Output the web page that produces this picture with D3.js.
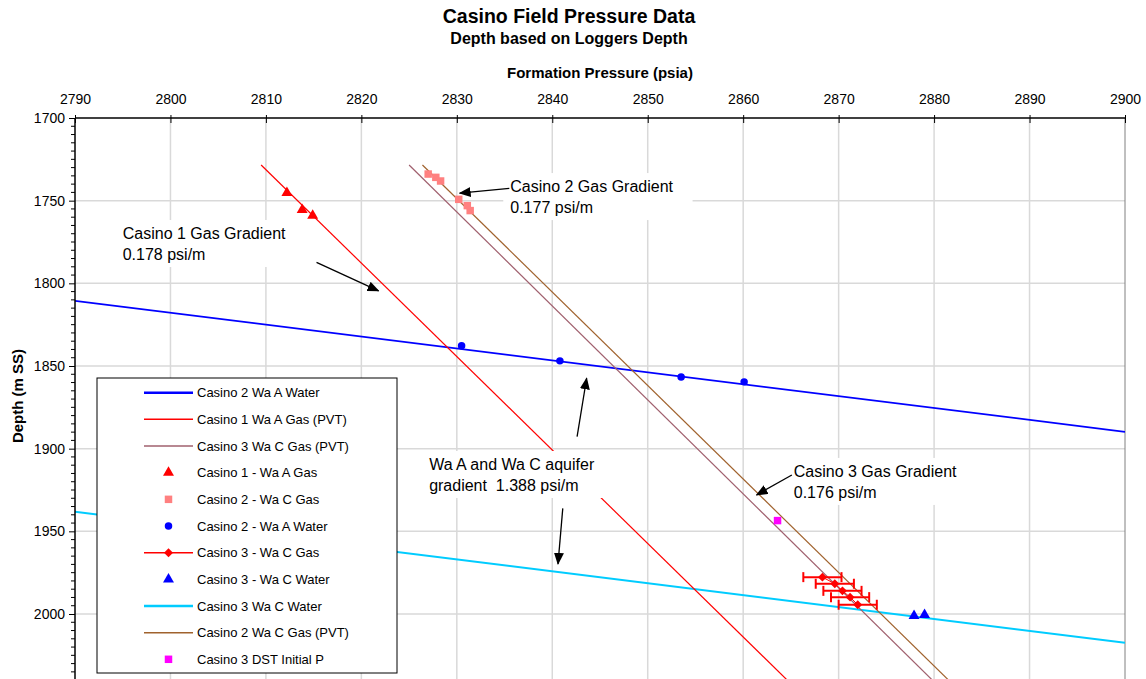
<!DOCTYPE html>
<html><head><meta charset="utf-8">
<script src="https://cdn.jsdelivr.net/npm/d3@7"></script>
<style>
body{margin:0;background:#fff;}
text{font-family:Arial,"Liberation Sans",sans-serif;fill:#000;}
</style>
</head><body>
<svg id="c" width="1146" height="679"></svg>
<script>
// ---------- data ----------
const xTicks = [2790,2800,2810,2820,2830,2840,2850,2860,2870,2880,2890,2900];
const yTicks = [1700,1750,1800,1850,1900,1950,2000];

// fitted gradient lines [pressure psia, depth m SS]
const casino2WaterLine = [[2790,1810.6],[2900,1889.8]];
const casino3WaterLine = [[2790,1938.2],[2900,2017.4]];
const casino1GasLine   = [[2809.5,1728.4],[2865.5,2045]];
const casino3GasLine   = [[2825.0,1728.4],[2880.7,2045]];
const casino2GasLine   = [[2826.4,1728.4],[2882.4,2045]];

// measured points
const casino1Gas   = [[2812.2,1745.2],[2813.8,1755.5],[2814.9,1759.0]];
const casino2Gas   = [[2827.0,1733.9],[2827.8,1735.9],[2828.3,1738.1],[2830.2,1749.2],[2831.1,1753.0],[2831.4,1756.0]];
const casino2Water = [[2830.5,1837.8],[2840.8,1846.9],[2853.5,1856.6],[2860.1,1859.6]];
const casino3Gas   = [[2868.3,1977.7],[2869.6,1981.7],[2870.4,1986.0],[2871.2,1989.8],[2872.0,1994.4]];
const casino3GasErr = [2,2,2,2,2];
const casino3Water = [[2877.9,2001.1],[2879.0,2000.5]];
const casino3DST   = [[2863.6,1943.5]];

// annotations (data coords)
const annotations = [
  {lines:["Casino 1 Gas Gradient","0.178 psi/m"], at:[2795.0,1773.2], arrows:[[[2815.3,1787.3],[2821.8,1804.6]]]},
  {lines:["Casino 2 Gas Gradient","0.177 psi/m"], at:[2835.6,1744.8], arrows:[[[2835.5,1742.6],[2830.3,1745.4]]]},
  {lines:["Wa A and Wa C aquifer","gradient  1.388 psi/m"], at:[2827.1,1912.9],
     arrows:[[[2842.6,1892.7],[2843.6,1857.4]],[[2841.1,1936.1],[2840.6,1969.7]]]},
  {lines:["Casino 3 Gas Gradient","0.176 psi/m"], at:[2865.3,1917.1], arrows:[[[2865.1,1915.9],[2861.4,1928.0]]]}
];

const legendItems = [
  {label:"Casino 2 Wa A Water", line:"#0000ff", lw:2.5},
  {label:"Casino 1 Wa A Gas (PVT)", line:"#ff0000", lw:1.5},
  {label:"Casino 3 Wa C Gas (PVT)", line:"#a0606e", lw:1.5},
  {label:"Casino 1 - Wa A Gas", sym:"triangle", color:"#ff0000"},
  {label:"Casino 2 - Wa C Gas", sym:"square", color:"#ff8080"},
  {label:"Casino 2 - Wa A Water", sym:"circle", color:"#0000ff"},
  {label:"Casino 3 - Wa C Gas", line:"#ff0000", lw:1.5, sym:"diamond", color:"#ff0000"},
  {label:"Casino 3 - Wa C Water", sym:"triangle", color:"#0000ff"},
  {label:"Casino 3 Wa C Water", line:"#00ccff", lw:2.5},
  {label:"Casino 2 Wa C Gas (PVT)", line:"#a0622d", lw:1.5},
  {label:"Casino 3 DST Initial P", sym:"square", color:"#ff00ff"}
];

// ---------- chart ----------
const W = 1146, H = 679;
const PL = 75, PR = 1125, PT = 118;
const svg = d3.select('#c');
const x = d3.scaleLinear().domain([2790,2900]).range([PL,PR]);
const y = d3.scaleLinear().domain([1700,2000]).range([PT,614]);

const defs = svg.append('defs');
defs.append('clipPath').attr('id','clip').append('rect')
  .attr('x',PL).attr('y',PT).attr('width',PR-PL).attr('height',H-PT+10);
defs.append('marker').attr('id','arr').attr('markerUnits','userSpaceOnUse')
  .attr('markerWidth',12).attr('markerHeight',10).attr('refX',11).attr('refY',5)
  .attr('orient','auto').append('path').attr('d','M0,0L12,5L0,10Z').attr('fill','#000');

// grid
const grid = svg.append('g');
grid.selectAll('.vg').data(xTicks.slice(1,-1)).join('line')
  .attr('x1',d=>x(d)).attr('x2',d=>x(d)).attr('y1',PT).attr('y2',H)
  .attr('stroke','#d9d9d9').attr('stroke-width',1.5);
grid.selectAll('.hg').data(yTicks.slice(1)).join('line')
  .attr('x1',PL).attr('x2',PR).attr('y1',d=>y(d)).attr('y2',d=>y(d))
  .attr('stroke','#d9d9d9').attr('stroke-width',1.5);
svg.append('line').attr('x1',PR).attr('x2',PR).attr('y1',PT).attr('y2',H)
  .attr('stroke','#808080').attr('stroke-width',1);

const plot = svg.append('g').attr('clip-path','url(#clip)');
const line = d3.line().x(d=>x(d[0])).y(d=>y(d[1]));

plot.append('path').datum(casino2WaterLine).attr('d',line).attr('fill','none').attr('stroke','#0000ff').attr('stroke-width',1.8);
plot.append('path').datum(casino3WaterLine).attr('d',line).attr('fill','none').attr('stroke','#00ccff').attr('stroke-width',2);
plot.append('path').datum(casino1GasLine).attr('d',line).attr('fill','none').attr('stroke','#ff0000').attr('stroke-width',1.2);
plot.append('path').datum(casino3GasLine).attr('d',line).attr('fill','none').attr('stroke','#a0606e').attr('stroke-width',1.2);
plot.append('path').datum(casino2GasLine).attr('d',line).attr('fill','none').attr('stroke','#a0622d').attr('stroke-width',1.2);

const symGen = {
  triangle: d3.symbol().type(d3.symbolTriangle).size(52),
  square: d3.symbol().type(d3.symbolSquare).size(56),
  circle: d3.symbol().type(d3.symbolCircle).size(44),
  diamond: d3.symbol().type(d3.symbolSquare).size(40)
};
function drawPts(data, sym, color){
  plot.selectAll(null).data(data).join('path')
    .attr('d', symGen[sym]())
    .attr('transform', d=>`translate(${x(d[0])},${y(d[1])})` + (sym==='diamond'?' rotate(45)':''))
    .attr('fill', color);
}
drawPts(casino1Gas,'triangle','#ff0000');
drawPts(casino2Gas,'square','#ff8080');
drawPts(casino2Water,'circle','#0000ff');
drawPts(casino3DST,'square','#ff00ff');

// Casino 3 gas with error bars
plot.append('path').datum(casino3Gas).attr('d',line).attr('fill','none').attr('stroke','#ff0000').attr('stroke-width',1);
const eb = plot.append('g').attr('stroke','#ff0000').attr('stroke-width',2);
casino3Gas.forEach((d,i)=>{
  const e = casino3GasErr[i];
  eb.append('line').attr('x1',x(d[0]-e)).attr('x2',x(d[0]+e)).attr('y1',y(d[1])).attr('y2',y(d[1]));
  [d[0]-e,d[0]+e].forEach(v=>eb.append('line').attr('x1',x(v)).attr('x2',x(v)).attr('y1',y(d[1])-5).attr('y2',y(d[1])+5));
});
drawPts(casino3Gas,'diamond','#ff0000');
drawPts(casino3Water,'triangle','#0000ff');

// annotations
annotations.forEach(a=>{
  const g = svg.append('g');
  const rect = g.append('rect').attr('fill','#fff');
  const t = g.append('text').attr('font-size',16).attr('x',x(a.at[0])).attr('y',y(a.at[1]));
  a.lines.forEach((s,i)=>t.append('tspan').attr('x',x(a.at[0])).attr('dy',i?21:0).attr('xml:space','preserve').text(s));
  const bb = t.node().getBBox();
  rect.attr('x',bb.x-7).attr('y',bb.y-5).attr('width',bb.width+26).attr('height',bb.height+9);
  a.arrows.forEach(ar=>{
    svg.append('line').attr('x1',x(ar[0][0])).attr('y1',y(ar[0][1])).attr('x2',x(ar[1][0])).attr('y2',y(ar[1][1]))
      .attr('stroke','#000').attr('stroke-width',1.3).attr('marker-end','url(#arr)');
  });
});

// legend
const lg = svg.append('g');
lg.append('rect').attr('x',97).attr('y',378).attr('width',300).attr('height',295)
  .attr('fill','#fff').attr('stroke','#000').attr('stroke-width',1);
legendItems.forEach((it,i)=>{
  const cy = 392.7 + i*26.66;
  if(it.line) lg.append('line').attr('x1',144).attr('x2',193).attr('y1',cy).attr('y2',cy)
      .attr('stroke',it.line).attr('stroke-width',it.lw);
  if(it.sym) lg.append('path').attr('d',symGen[it.sym]())
      .attr('transform',`translate(168.5,${cy})`+(it.sym==='diamond'?' rotate(45)':'')).attr('fill',it.color);
  lg.append('text').attr('x',197).attr('y',cy).attr('dy','0.35em').attr('font-size',13).text(it.label);
});

// axes
const topAx = svg.append('g').attr('transform',`translate(0,${PT})`)
  .call(d3.axisTop(x).tickValues(xTicks).tickFormat(d3.format('d')).tickSizeOuter(0).tickSize(3).tickPadding(11));
topAx.select('.domain').remove();
topAx.selectAll('.tick line').attr('y1',5).attr('y2',-3).attr('stroke','#000');
topAx.selectAll('.tick text').attr('font-size',14).attr('font-family','Arial,"Liberation Sans",sans-serif');
svg.append('line').attr('x1',PL).attr('x2',PR).attr('y1',PT).attr('y2',PT).attr('stroke','#000').attr('stroke-width',1.5);

const minor = d3.range(1705,2045,5).filter(v=>v%50!==0);
svg.append('g').selectAll('line').data(minor).join('line')
  .attr('x1',PL-4).attr('x2',PL).attr('y1',d=>y(d)).attr('y2',d=>y(d)).attr('stroke','#000');
const leftAx = svg.append('g').attr('transform',`translate(${PL},0)`)
  .call(d3.axisLeft(y).tickValues(yTicks).tickFormat(d3.format('d')).tickSize(6).tickPadding(4));
leftAx.select('.domain').remove();
leftAx.selectAll('.tick text').attr('font-size',14).attr('font-family','Arial,"Liberation Sans",sans-serif');
svg.append('line').attr('x1',PL).attr('x2',PL).attr('y1',PT).attr('y2',H).attr('stroke','#000').attr('stroke-width',1.5);

// titles
svg.append('text').attr('x',569).attr('y',23).attr('text-anchor','middle').attr('font-weight','bold').attr('font-size',19.5).text('Casino Field Pressure Data');
svg.append('text').attr('x',569).attr('y',43.5).attr('text-anchor','middle').attr('font-weight','bold').attr('font-size',16).text('Depth based on Loggers Depth');
svg.append('text').attr('x',600).attr('y',78).attr('text-anchor','middle').attr('font-weight','bold').attr('font-size',15).text('Formation Pressure (psia)');
svg.append('text').attr('transform','translate(23,396) rotate(-90)').attr('text-anchor','middle').attr('font-weight','bold').attr('font-size',15).text('Depth (m SS)');
</script>
</body></html>
